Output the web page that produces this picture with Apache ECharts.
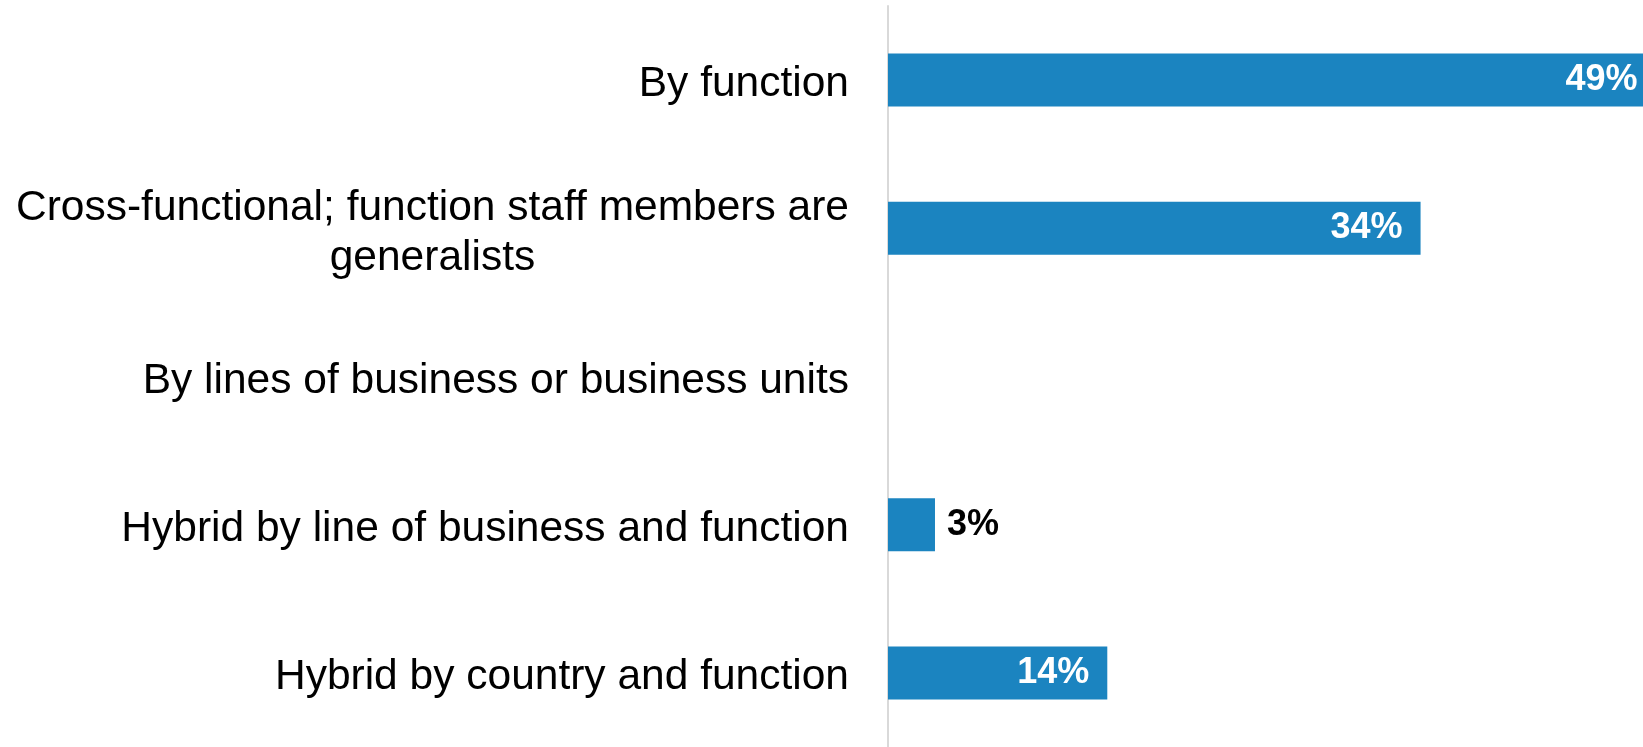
<!DOCTYPE html>
<html>
<head>
<meta charset="utf-8">
<script src="https://cdn.jsdelivr.net/npm/echarts@6/dist/echarts.min.js"></script>
<style>
html,body{margin:0;padding:0;background:#fff;}
#chart{width:1643px;height:747px;}
</style>
</head>
<body>
<div id="chart"></div>
<script>
const categories = [
  'By function',
  'Cross-functional; function staff members are\ngeneralists',
  'By lines of business or business units',
  'Hybrid by line of business and function',
  'Hybrid by country and function'
];
const values = [49, 34, null, 3, 14];

const chart = echarts.init(document.getElementById('chart'), null, {renderer: 'canvas'});

const data = values.map(v => {
  if (v === null) return '-';
  const outside = v < 5;
  return {
    value: v,
    label: outside
      ? {position: 'right', distance: 12, color: '#000'}
      : {position: 'insideRight', distance: 18, color: '#fff'}
  };
});

const FONT = 'Liberation Sans, Arial, sans-serif';

chart.setOption({
  animation: false,
  grid: {left: 888, right: 0, top: 6, bottom: -2, containLabel: false},
  xAxis: {
    type: 'value',
    min: 0,
    max: 48.2,
    show: false
  },
  yAxis: {
    type: 'category',
    data: categories,
    inverse: true,
    axisLine: {show: true, lineStyle: {color: '#d9d9d9', width: 2}},
    axisTick: {show: false},
    splitLine: {show: false},
    axisLabel: {
      margin: 39,
      align: 'right',
      padding: [9, 0, 0, 0],
      formatter: function (v) {
        return v.split('\n').map(function (l) { return '{c|' + l + '}'; }).join('\n');
      },
      rich: {
        c: {
          color: '#000',
          fontFamily: FONT,
          fontSize: 42.5,
          lineHeight: 50,
          align: 'center'
        }
      }
    }
  },
  series: [{
    type: 'bar',
    data: data,
    barWidth: 53,
    clip: false,
    itemStyle: {color: '#1B84C0'},
    label: {
      show: true,
      formatter: '{c}%',
      fontFamily: FONT,
      fontWeight: 'bold',
      fontSize: 36
    }
  }]
});
</script>
</body>
</html>
